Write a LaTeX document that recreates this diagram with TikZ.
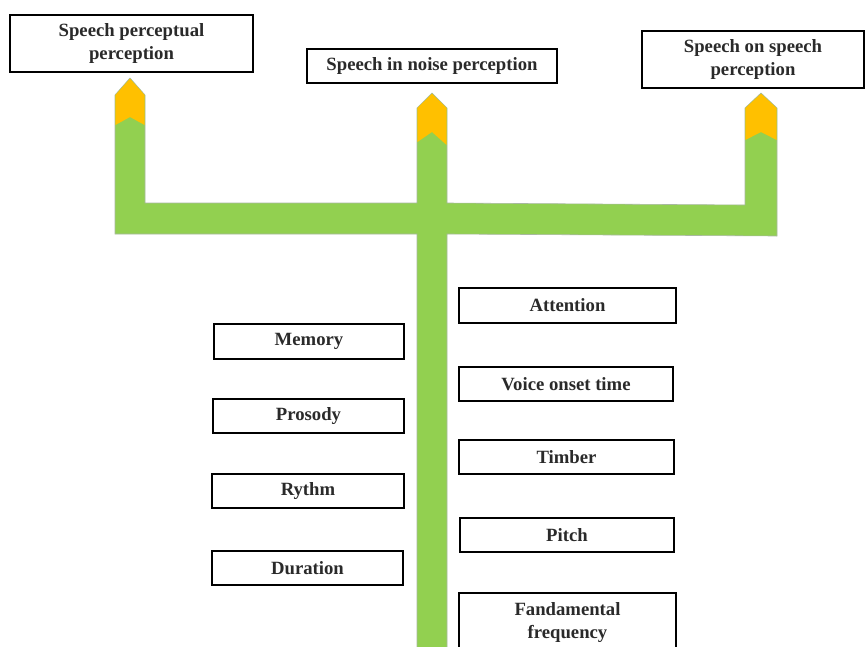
\documentclass[tikz,border=0pt]{standalone}
\usepackage{fontspec}
\setmainfont{Liberation Serif}
\definecolor{leaf}{HTML}{92D050}
\definecolor{tipor}{HTML}{FFC000}
\definecolor{edgegray}{HTML}{A8B8A0}
\definecolor{txt}{HTML}{2A2A2A}
\begin{document}
\begin{tikzpicture}[x=1pt,y=-1pt,
  box/.style={draw=black,line width=1.8pt,fill=white,inner sep=0pt,align=center,
    font=\bfseries\fontsize{18.7}{23}\selectfont,text=txt},
  trunk/.style={fill=leaf,draw=edgegray,line width=0.6pt,line join=miter},
  tipfill/.style={fill=tipor,draw=none}]
\useasboundingbox (0,0) rectangle (865,646);
\clip (0,0) rectangle (865,646);
\fill[white] (0,0) rectangle (865,646);
% green tree
\path[trunk] (115,234) -- (115,95) -- (130,78) -- (145,95) -- (145,203)
  -- (417,203) -- (417,108) -- (432,93) -- (447,108) -- (447,203)
  -- (745,205) -- (745,108) -- (761,93) -- (777,108) -- (777,236)
  -- (447,234) -- (447,650) -- (417,650) -- (417,234) -- cycle;
\fill[tipfill] (115.4,95) -- (130,78.6) -- (144.6,95) -- (144.6,125) -- (130,117) -- (115.4,125) -- cycle;
\fill[tipfill] (417.4,108) -- (432,93.6) -- (446.6,108) -- (446.6,145) -- (432,132) -- (417.4,142) -- cycle;
\fill[tipfill] (745.4,108) -- (761,93.6) -- (776.6,108) -- (776.6,140) -- (761,132) -- (745.4,140) -- cycle;
% top boxes
\node[box,minimum width=243,minimum height=57] (sp) at (131.5,43.5) {Speech perceptual\\perception};
\node[box,minimum width=250,minimum height=34] (sn) at (432,66) {Speech in noise perception};
\node[box,minimum width=222,minimum height=57] (ss) at (753,59.5) {Speech on speech\\perception};
% left column
\node[box,minimum width=190,minimum height=35] (mem) at (309,341.5) {Memory};
\node[box,minimum width=191,minimum height=34] (pro) at (308.5,416) {Prosody};
\node[box,minimum width=192,minimum height=34] (ryt) at (308,491) {Rythm};
\node[box,minimum width=191,minimum height=34] (dur) at (307.5,568) {Duration};
% right column
\node[box,minimum width=217,minimum height=35] (att) at (567.5,305.5) {Attention};
\node[box,minimum width=214,minimum height=34] (vot) at (566,384) {Voice onset time};
\node[box,minimum width=215,minimum height=34] (tim) at (566.5,457) {Timber};
\node[box,minimum width=214,minimum height=34] (pit) at (567,535) {Pitch};
\node[box,minimum width=217,minimum height=60] (fan) at (567.5,623) {Fandamental\\frequency};
\end{tikzpicture}
\end{document}
